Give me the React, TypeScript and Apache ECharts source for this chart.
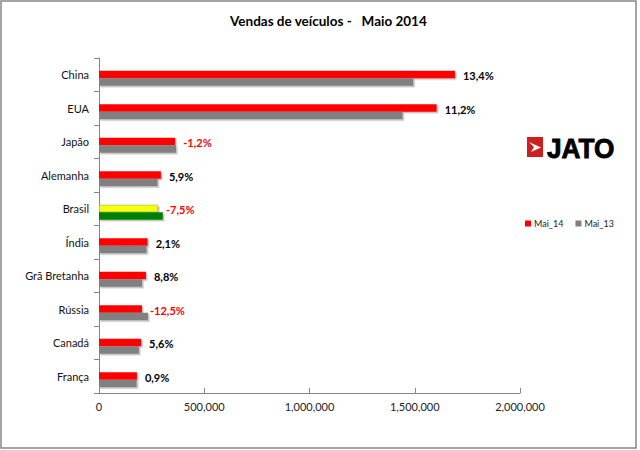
import React, { useEffect, useRef } from "react";
import * as echarts from "echarts";

const countries = ["China", "EUA", "Japão", "Alemanha", "Brasil", "Índia", "Grã Bretanha", "Rússia", "Canadá", "França"];
const sales2014 = [1691000, 1604000, 362000, 294000, 280000, 231000, 223000, 204000, 200000, 180000];
const sales2013 = [1493000, 1442000, 366000, 278000, 303000, 226000, 205000, 233000, 189500, 178500];
const growth = ["13,4%", "11,2%", "-1,2%", "5,9%", "-7,5%", "2,1%", "8,8%", "-12,5%", "5,6%", "0,9%"];
const seriesNames = ["Mai_14", "Mai_13"];
const xMin = 0;
const xMax = 2000000;
const xStep = 500000;
const highlightCountry = "Brasil";

const FONT = "Lato, 'Noto Sans', sans-serif";

export default function App() {
  const ref = useRef<HTMLDivElement>(null);

  useEffect(() => {
    if (!ref.current) return;
    const chart = echarts.init(ref.current, undefined, { renderer: "svg" });
    const shadow = {
      shadowColor: "rgba(0,0,0,0.25)",
      shadowOffsetX: 1.5,
      shadowOffsetY: 1.5,
      shadowBlur: 1,
    };
    const redData = sales2014.map((v, i) => ({
      value: v,
      itemStyle: countries[i] === highlightCountry ? { color: "#ffff00", borderColor: "#9ccc65", borderWidth: 0.8 } : undefined,
      label: { color: growth[i].startsWith("-") ? "#ff0000" : "#000000" },
    }));
    const grayData = sales2013.map((v, i) => ({
      value: v,
      itemStyle: countries[i] === highlightCountry ? { color: "#008000" } : undefined,
    }));

    chart.setOption({
      animation: false,
      textStyle: { fontFamily: FONT },
      title: {
        text: "Vendas de veículos -   Maio 2014",
        left: 230,
        top: 14,
        padding: 0,
        textStyle: { fontFamily: FONT, fontSize: 13.5, fontWeight: "bold", color: "#000" },
      },
      legend: {
        data: seriesNames,
        left: 520,
        top: 214,
        icon: "rect",
        itemWidth: 6,
        itemHeight: 6,
        itemGap: 12,
        textStyle: { fontFamily: FONT, fontSize: 9, color: "#222", padding: [0, 0, 0, -2] },
      },
      grid: { left: 99, right: 120, top: 58, bottom: 57, containLabel: false },
      xAxis: {
        type: "value",
        min: xMin,
        max: xMax,
        interval: xStep,
        splitLine: { show: false },
        axisLine: { show: true, lineStyle: { color: "#868686", width: 1 } },
        axisTick: { show: true, inside: true, length: 5, lineStyle: { color: "#868686" } },
        axisLabel: {
          margin: 8,
          fontSize: 11,
          color: "#222",
          fontFamily: FONT,
          formatter: (v: number) => v.toLocaleString("en-US"),
        },
      },
      yAxis: {
        type: "category",
        data: countries,
        inverse: true,
        axisLine: { show: true, lineStyle: { color: "#868686", width: 1 } },
        axisTick: { show: true, length: 5, lineStyle: { color: "#868686" } },
        axisLabel: { margin: 10, fontSize: 11, color: "#111", fontFamily: FONT },
      },
      series: [
        {
          name: "spacer",
          type: "bar",
          data: [],
          barWidth: 7,
          barGap: "0%",
          silent: true,
        },
        {
          name: seriesNames[0],
          type: "bar",
          data: redData,
          barWidth: 7.5,
          barGap: "0%",
          itemStyle: { color: "#ff0000", ...shadow },
          label: {
            show: true,
            position: "right",
            distance: 8,
            offset: [0, 1],
            fontFamily: FONT,
            fontSize: 11,
            fontWeight: "bold",
            formatter: (p: any) => growth[p.dataIndex],
          },
        },
        {
          name: seriesNames[1],
          type: "bar",
          data: grayData,
          barWidth: 7.5,
          barGap: "0%",
          itemStyle: { color: "#808080", ...shadow },
        },
      ],
      graphic: [
        {
          type: "rect",
          shape: { x: 1, y: 1, width: 635, height: 447 },
          style: { fill: "none", stroke: "#868686", lineWidth: 1.5 },
          silent: true,
        },
        {
          type: "group",
          children: [
            { type: "rect", shape: { x: 527, y: 137, width: 16, height: 20 }, style: { fill: "#cf1e1e" } },
            {
              type: "polygon",
              shape: { points: [[529, 142], [541, 147.5], [531, 152], [534, 147]] },
              style: { fill: "#ffffff" },
            },
            {
              type: "text",
              x: 547,
              y: 148,
              scaleX: 0.92,
              originX: 0,
              originY: 0,
              style: {
                text: "JATO",
                x: 0,
                y: 0,
                fontFamily: "'Liberation Sans', Arial, sans-serif",
                fontWeight: "bold",
                fontSize: 28.5,
                fill: "#000",
                stroke: "#000",
                lineWidth: 0.9,
                verticalAlign: "middle",
              },
            },
          ],
        },
      ],
    });
    return () => chart.dispose();
  }, []);

  return <div ref={ref} style={{ position: "absolute", left: 0, top: 0, width: 640, height: 450 }} />;
}
